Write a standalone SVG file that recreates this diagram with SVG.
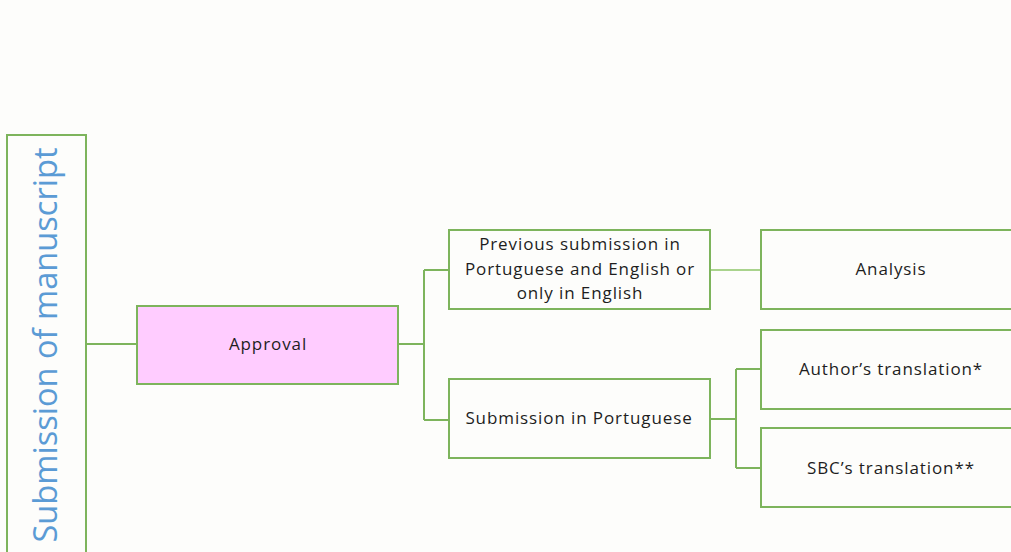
<svg xmlns="http://www.w3.org/2000/svg" width="1011" height="552" viewBox="0 0 1011 552">
<style>
.box{fill:#fdfdfb;stroke:#7db45c;stroke-width:2}
.pink{fill:#ffccff;stroke:#7db45c;stroke-width:2}
.ln{fill:none;stroke:#7db45c;stroke-width:2}
.lt{fill:none;stroke:#a9d38c;stroke-width:2}
.t{font-family:"Open Sans","DejaVu Sans",sans-serif;font-size:17px;letter-spacing:0.9px;fill:#1e1e1e;text-anchor:middle}
</style>
<rect x="0" y="0" width="1011" height="552" fill="#fdfdfb"/>
<g id="connectors">
<path class="ln" d="M86 344H137"/>
<path class="ln" d="M398 344H424M424 270V420M424 270H449M424 420H449"/>
<path class="lt" d="M710 270H761"/>
<path class="ln" d="M710 419H736M736 369V468M736 369H761M736 468H761"/>
</g>
<g id="submission">
<rect class="box" x="7" y="135" width="79" height="430"/>
<text x="57" y="345" transform="rotate(-90 57 345)" font-family="'Open Sans','DejaVu Sans',sans-serif" font-size="33" fill="#5b9bd5" text-anchor="middle" textLength="395" lengthAdjust="spacingAndGlyphs">Submission of manuscript</text>
</g>
<g id="approval">
<rect class="pink" x="137" y="306" width="261" height="78"/>
<text class="t" x="268" y="350">Approval</text>
</g>
<g id="previous">
<rect class="box" x="449" y="230" width="261" height="79"/>
<text class="t" x="580" y="250">Previous submission in</text>
<text class="t" x="580" y="275">Portuguese and English or</text>
<text class="t" x="580" y="299">only in English</text>
</g>
<g id="portuguese">
<rect class="box" x="449" y="379" width="261" height="79"/>
<text class="t" x="579" y="424">Submission in Portuguese</text>
</g>
<g id="analysis">
<rect class="box" x="761" y="230" width="260" height="79"/>
<text class="t" x="891" y="275">Analysis</text>
</g>
<g id="author">
<rect class="box" x="761" y="330" width="260" height="79"/>
<text class="t" x="891" y="375">Author’s translation*</text>
</g>
<g id="sbc">
<rect class="box" x="761" y="428" width="260" height="79"/>
<text class="t" x="891" y="474">SBC’s translation**</text>
</g>
</svg>
